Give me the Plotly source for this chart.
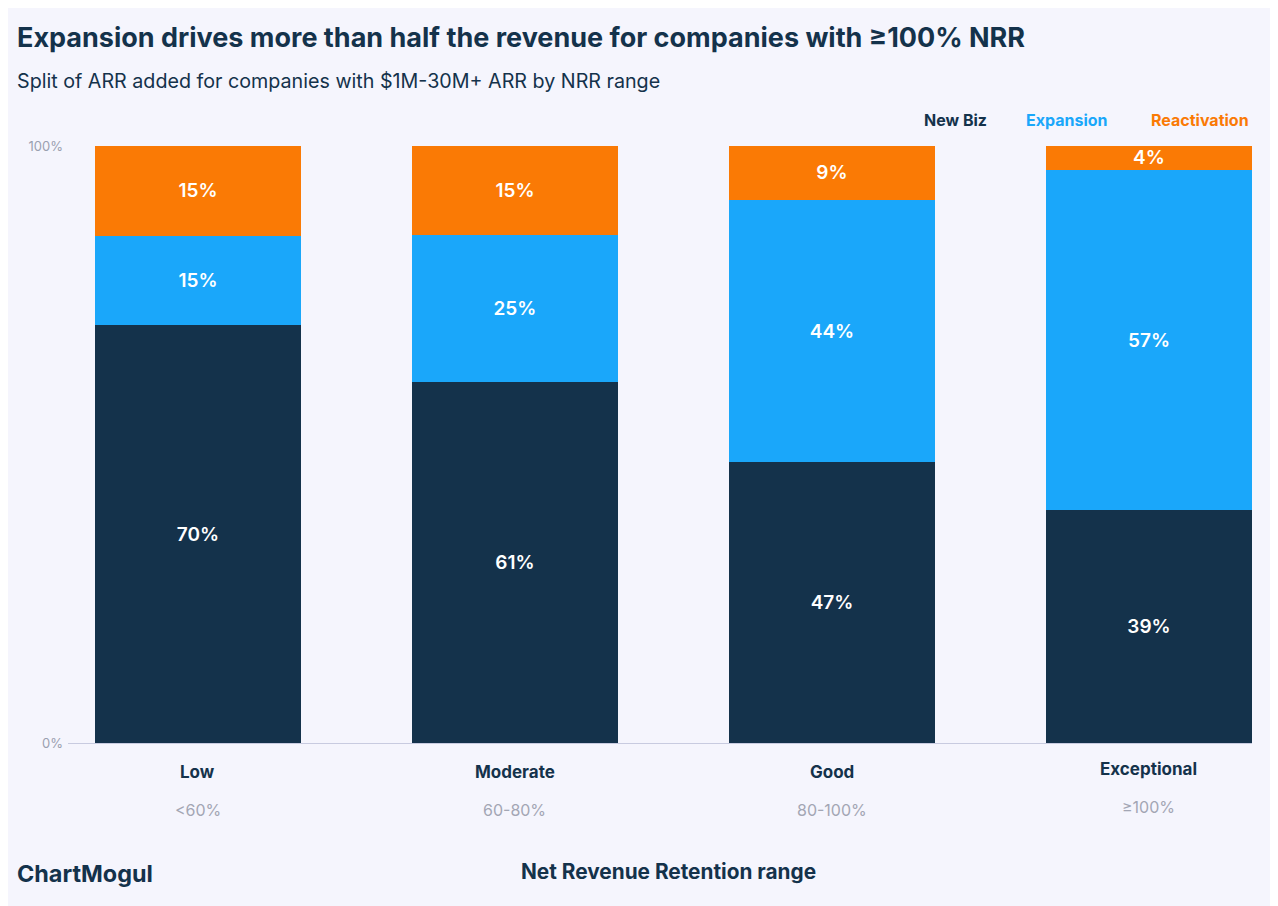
import plotly.graph_objects as go

categories = ["Low", "Moderate", "Good", "Exceptional"]
ranges = ["<60%", "60-80%", "80-100%", "≥100%"]
new_biz = [70, 61, 47, 39]
expansion = [15, 25, 44, 57]
reactivation = [15, 15, 9, 4]

DARK = "#14324b"; BLUE = "#1aa7fa"; ORANGE = "#fa7a05"; BG = "#f5f5fd"
x = list(range(len(categories)))
fig = go.Figure()
for name, vals, col in [("New Biz", new_biz, DARK), ("Expansion", expansion, BLUE), ("Reactivation", reactivation, ORANGE)]:
    fig.add_bar(x=x, y=vals, name=name, marker=dict(color=col, line=dict(width=0)), width=0.647,
                text=[f"{v}%" for v in vals], textposition="inside", insidetextanchor="middle",
                constraintext="none", cliponaxis=False,
                textfont=dict(color="white", size=19, family="Inter", weight=600), hoverinfo="skip")
fig.update_layout(barmode="stack", barnorm="percent", showlegend=False,
    width=1278, height=906, paper_bgcolor=BG, plot_bgcolor=BG,
    margin=dict(l=60, r=34, t=138, b=171), font=dict(family="Inter", color=DARK))
fig.update_xaxes(range=[-0.41, 3.325], showticklabels=False, showgrid=False, zeroline=False,
                 showline=True, linecolor="#c8cbe0", linewidth=1)
fig.update_yaxes(range=[0, 100], tickvals=[0, 100], ticktext=["0%", "100%"], showgrid=False,
                 zeroline=False, tickfont=dict(size=13, color="#9aa0b0"), ticks="", ticklabelstandoff=4)
ann = [
    dict(x=0, y=1, xref="paper", yref="paper", xshift=-53, yshift=109, text="<b>Expansion drives more than half the revenue for companies with ≥100% NRR</b>",
         font=dict(size=27, color=DARK), showarrow=False, xanchor="left", yanchor="middle"),
    dict(x=0, y=1, xref="paper", yref="paper", xshift=-53, yshift=65, text="Split of ARR added for companies with $1M-30M+ ARR by NRR range",
         font=dict(size=19.7, color=DARK), showarrow=False, xanchor="left", yanchor="middle"),
    dict(x=0.5, y=0, xref="paper", yref="paper", xshift=8, yshift=-128, text="<b>Net Revenue Retention range</b>",
         font=dict(size=20.8, color=DARK), showarrow=False, yanchor="middle"),
    dict(x=0, y=0, xref="paper", yref="paper", xshift=-53, yshift=-130, text="<b>ChartMogul</b>",
         font=dict(size=23.4, color=DARK), showarrow=False, xanchor="left", yanchor="middle"),
]
for name, col, xp in [("New Biz", DARK, 989), ("Expansion", BLUE, 1110), ("Reactivation", ORANGE, 1251)]:
    ann.append(dict(x=(xp-68)/1184, y=1, xref="paper", yref="paper", yshift=26, text=f"<b>{name}</b>",
                    font=dict(size=16, color=col), showarrow=False, xanchor="right", yanchor="middle"))
for i, (c, r) in enumerate(zip(categories, ranges)):
    up = 3 if i == 3 else 0
    ann.append(dict(x=i, y=0, xref="x", yref="paper", yshift=-29 + up, text=f"<b>{c}</b>",
                    font=dict(size=17, color=DARK), showarrow=False, yanchor="middle"))
    ann.append(dict(x=i, y=0, xref="x", yref="paper", yshift=-67 + up, text=r,
                    font=dict(size=16, color="#a3a6b4"), showarrow=False, yanchor="middle"))
fig.update_layout(annotations=ann)
fig.write_html("out.html")
